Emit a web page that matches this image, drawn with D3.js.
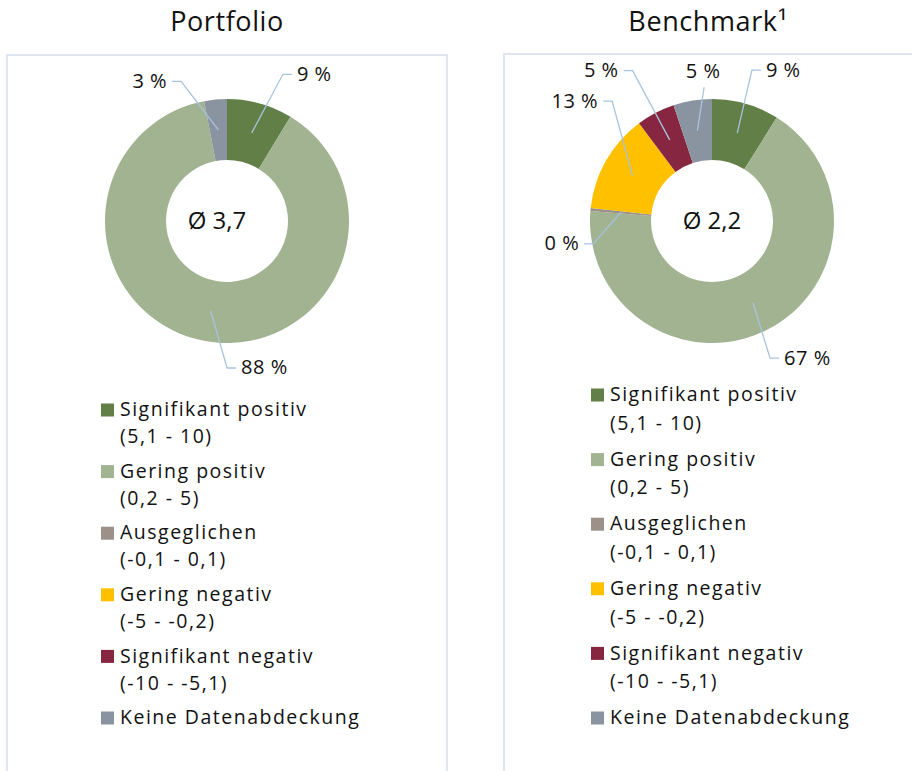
<!DOCTYPE html>
<html>
<head>
<meta charset="utf-8">
<script src="https://cdn.jsdelivr.net/npm/d3@7"></script>
<style>
  html, body { margin: 0; padding: 0; background: #fff; }
  svg text { font-family: "Open Sans", Lato, sans-serif; fill: #111; font-variant-ligatures: none; }
</style>
</head>
<body>
<svg id="chart" width="912" height="771"></svg>
<script>
// --- data ---
const categories = ["Signifikant positiv", "Gering positiv", "Ausgeglichen", "Gering negativ", "Signifikant negativ", "Keine Datenabdeckung"];
const categoryRanges = ["(5,1 - 10)", "(0,2 - 5)", "(-0,1 - 0,1)", "(-5 - -0,2)", "(-10 - -5,1)", ""];
const chartTitles = ["Portfolio", "Benchmark\u00b9"];
const portfolioValues = [8.7, 88.3, 0, 0, 0, 3.0];
const benchmarkValues = [8.9, 67.4, 0.4, 13.1, 5.1, 5.1];
const averageScores = [3.7, 2.2];

// --- layout / style ---
const colors = ["#627f47", "#a1b391", "#9b9189", "#ffc000", "#862640", "#8994a0"];
const leaderColor = "#a9c3df";
const panels = [
    {x: 7, y: 55, w: 440, cx: 227, cy: 221, titleX: 227, avgDx: -10,
     legendX: 101, legendY: 410, itemStep: 61.6, lineStep: 27,
     // label elbow: angle nudge (deg) from slice middle, radius
     labels: {0: [5.2, 157], 1: [-10.3, 147], 5: [-12.8, 147]}},
    {x: 504, y: 54, w: 440, cx: 712, cy: 221, titleX: 708, avgDx: 0,
     legendX: 591, legendY: 395, itemStep: 64.6, lineStep: 28.5,
     labels: {0: [-1.2, 156], 1: [3.7, 149], 2: [-16.3, 121], 3: [20.5, 156], 4: [-0.3, 170], 5: [5.8, 134]}}
];
const outerR = 122, innerR = 61;

const svg = d3.select("#chart");
const fmt = v => String(v).replace(".", ",");

const pie = d3.pie().sort(null).value(d => d);
const arc = d3.arc().innerRadius(innerR).outerRadius(outerR);
const mid = d3.arc().innerRadius((innerR + outerR) / 2).outerRadius((innerR + outerR) / 2);

[portfolioValues, benchmarkValues].forEach((values, ci) => {
    const p = panels[ci];

    svg.append("path")
        .attr("d", `M${p.x},${800} V${p.y} H${p.x + p.w} V${800}`)
        .attr("fill", "none")
        .attr("stroke", "#dfe6f1")
        .attr("stroke-width", 2);

    svg.append("text")
        .attr("x", p.titleX).attr("y", 24)
        .attr("text-anchor", "middle")
        .attr("dominant-baseline", "middle")
        .attr("font-size", 27)
        .attr("letter-spacing", 0.6)
        .text(chartTitles[ci]);

    const g = svg.append("g").attr("transform", `translate(${p.cx},${p.cy})`);
    const arcs = pie(values);

    g.selectAll("path.slice")
        .data(arcs)
        .enter()
        .append("path")
        .attr("class", "slice")
        .attr("d", arc)
        .attr("fill", (d, i) => colors[i]);

    g.append("text")
        .attr("x", p.avgDx).attr("y", 2)
        .attr("text-anchor", "middle")
        .attr("dominant-baseline", "middle")
        .attr("font-size", 24)
        .text("\u00d8 " + fmt(averageScores[ci]));

    // leader lines + labels
    arcs.forEach((d, i) => {
        if (d.value <= 0 || !p.labels[i]) return;
        const start = mid.centroid(d);
        const a = (d.startAngle + d.endAngle) / 2 + p.labels[i][0] * Math.PI / 180;
        const r = p.labels[i][1];
        const ex = Math.sin(a) * r, ey = -Math.cos(a) * r;
        const label = Math.round(d.value) + " %";
        const deg = ((a * 180 / Math.PI) % 360 + 360) % 360;
        const top = deg > 354 || deg < 6;
        const right = ex >= -0.5;
        let pts = [start, [ex, ey]];
        if (!top) pts.push([ex + (right ? 9 : -9), ey]);

        g.append("path")
            .attr("d", d3.line()(pts))
            .attr("fill", "none")
            .attr("stroke", leaderColor)
            .attr("stroke-width", 1.3);

        const t = g.append("text")
            .attr("font-size", 20)
            .attr("letter-spacing", 0.5)
            .attr("dominant-baseline", "middle")
            .text(label);
        if (top) {
            t.attr("x", ex - 1).attr("y", ey - 15).attr("text-anchor", "middle");
        } else if (right) {
            t.attr("x", ex + 14).attr("y", ey + 1).attr("text-anchor", "start");
        } else {
            t.attr("x", ex - 14).attr("y", ey + 1).attr("text-anchor", "end");
        }
    });

    // legend
    const lg = svg.append("g").attr("transform", `translate(${p.legendX},${p.legendY})`);
    categories.forEach((c, i) => {
        const y = i * p.itemStep;
        lg.append("rect")
            .attr("x", 0).attr("y", y - 6.5)
            .attr("width", 13).attr("height", 13)
            .attr("fill", colors[i]);
        lg.append("text")
            .attr("x", 19).attr("y", y + 1)
            .attr("dominant-baseline", "middle")
            .attr("font-size", 19.5)
            .attr("letter-spacing", 1.5)
            .text(c);
        if (categoryRanges[i]) {
            lg.append("text")
                .attr("x", 19).attr("y", y + p.lineStep + 1)
                .attr("dominant-baseline", "middle")
                .attr("font-size", 19.5)
                .attr("letter-spacing", 1.5)
                .text(categoryRanges[i]);
        }
    });
});
</script>
</body>
</html>
